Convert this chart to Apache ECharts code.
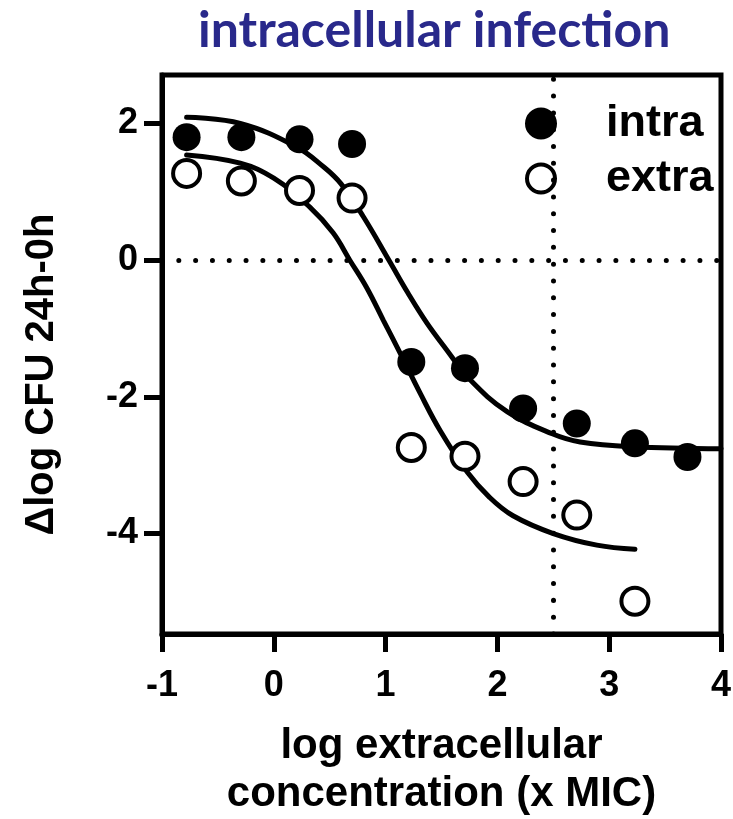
<!DOCTYPE html>
<html>
<head>
<meta charset="utf-8">
<script src="https://cdn.jsdelivr.net/npm/echarts@6/dist/echarts.min.js"></script>
<style>
  html, body { margin: 0; padding: 0; background: #fff; }
  #chart { width: 733px; height: 819px; }
</style>
</head>
<body>
<div id="chart"></div>
<script>
// measured points (log extracellular conc, delta log CFU)
const concX = [-0.78, -0.29, 0.23, 0.70, 1.23, 1.71, 2.23, 2.71, 3.23, 3.70];
const intraVals = [1.80, 1.80, 1.77, 1.70, -1.49, -1.58, -2.17, -2.39, -2.68, -2.88];
const extraVals = [1.27, 1.16, 1.02, 0.91, -2.74, -2.87, -3.24, -3.73, -4.99];

// fitted curves
const intraFitX = [-0.78, -0.30, 0.20, 0.45, 0.60, 0.80, 1.03, 1.20, 1.37, 1.55, 1.75, 2.09, 2.49, 2.74, 3.21, 4.0];
const intraFitY = [2.09, 2.00, 1.66, 1.36, 1.12, 0.64, 0.00, -0.48, -0.92, -1.32, -1.74, -2.22, -2.54, -2.66, -2.73, -2.76];
const extraFitX = [-0.78, -0.30, 0.00, 0.32, 0.53, 0.68, 0.83, 0.98, 1.13, 1.31, 1.49, 1.73, 1.93, 2.14, 2.50, 2.89, 3.23];
const extraFitY = [1.54, 1.42, 1.20, 0.78, 0.40, 0.00, -0.40, -0.88, -1.36, -1.95, -2.50, -3.10, -3.47, -3.74, -4.00, -4.17, -4.23];

const xTicks = [-1, 0, 1, 2, 3, 4];
const yTicks = [-4, -2, 0, 2];
const refX = 2.5;
const refY = 0;

const pairs = (xs, ys) => ys.map((v, i) => [xs[i], v]);

const font = 'Liberation Sans';
const dots = [0.01, 16.8];

const option = {
  animation: false,
  title: {
    text: 'intracellular infection',
    left: 193,
    top: 1,
    textStyle: {
      fontFamily: 'Lato',
      fontWeight: 'bold',
      fontSize: 50,
      color: '#29298b'
    }
  },
  legend: {
    orient: 'vertical',
    left: 520,
    top: 96,
    itemWidth: 28,
    itemHeight: 28,
    itemGap: 10,
    icon: 'circle',
    itemStyle: { borderWidth: 4 },
    textStyle: {
      fontFamily: font,
      fontWeight: 'bold',
      fontSize: 45,
      color: '#000',
      padding: [0, 0, 0, 46]
    },
    data: ['intra', 'extra']
  },
  grid: {
    left: 162,
    right: 12,
    top: 75,
    bottom: 185,
    outerBoundsMode: 'none',
    containLabel: false,
    show: true,
    borderColor: '#000',
    borderWidth: 5
  },
  xAxis: {
    type: 'value',
    min: -1,
    max: 4,
    interval: 1,
    name: 'log extracellular\nconcentration (x MIC)',
    nameLocation: 'middle',
    nameGap: 88,
    nameTextStyle: {
      fontFamily: font,
      fontWeight: 'bold',
      fontSize: 42,
      lineHeight: 48,
      color: '#000'
    },
    axisLine: { show: true, onZero: false, lineStyle: { color: '#000', width: 5 } },
    axisTick: { show: true, length: 18, lineStyle: { color: '#000', width: 5 }, customValues: xTicks },
    axisLabel: {
      customValues: xTicks,
      fontFamily: font,
      fontWeight: 'bold',
      fontSize: 36,
      color: '#000',
      margin: 34
    },
    splitLine: { show: false }
  },
  yAxis: {
    type: 'value',
    min: -5.47,
    max: 2.71,
    name: '\u0394log CFU 24h-0h',
    nameLocation: 'middle',
    nameGap: 100,
    nameTextStyle: {
      fontFamily: font,
      fontWeight: 'bold',
      fontSize: 40,
      color: '#000',
      padding: [0, 40, 0, 0]
    },
    axisLine: { show: true, onZero: false, lineStyle: { color: '#000', width: 5 } },
    axisTick: { show: true, length: 18, lineStyle: { color: '#000', width: 5 }, customValues: yTicks },
    axisLabel: {
      customValues: yTicks,
      fontFamily: font,
      fontWeight: 'bold',
      fontSize: 36,
      color: '#000',
      margin: 24
    },
    splitLine: { show: false }
  },
  series: [
    {
      name: 'ref',
      type: 'line',
      data: [],
      silent: true,
      markLine: {
        silent: true,
        symbol: 'none',
        label: { show: false },
        lineStyle: { color: '#000', width: 5, type: dots, cap: 'round' },
        data: [{ xAxis: refX }, { yAxis: refY }]
      }
    },
    {
      name: 'intraFit',
      type: 'line',
      smooth: 0.4,
      showSymbol: false,
      silent: true,
      lineStyle: { color: '#000', width: 5, cap: 'round' },
      data: pairs(intraFitX, intraFitY),
      z: 3
    },
    {
      name: 'extraFit',
      type: 'line',
      smooth: 0.4,
      showSymbol: false,
      silent: true,
      lineStyle: { color: '#000', width: 5, cap: 'round' },
      data: pairs(extraFitX, extraFitY),
      z: 3
    },
    {
      name: 'intra',
      type: 'scatter',
      symbol: 'circle',
      symbolSize: 28,
      itemStyle: { color: '#000', borderColor: '#000', borderWidth: 0, opacity: 1 },
      data: pairs(concX, intraVals),
      z: 5
    },
    {
      name: 'extra',
      type: 'scatter',
      symbol: 'circle',
      symbolSize: 27,
      itemStyle: { color: '#fff', borderColor: '#000', borderWidth: 4, opacity: 1 },
      data: pairs(concX, extraVals),
      z: 5
    }
  ]
};

const chart = echarts.init(document.getElementById('chart'), null, { renderer: 'canvas' });
chart.setOption(option);
</script>
</body>
</html>
